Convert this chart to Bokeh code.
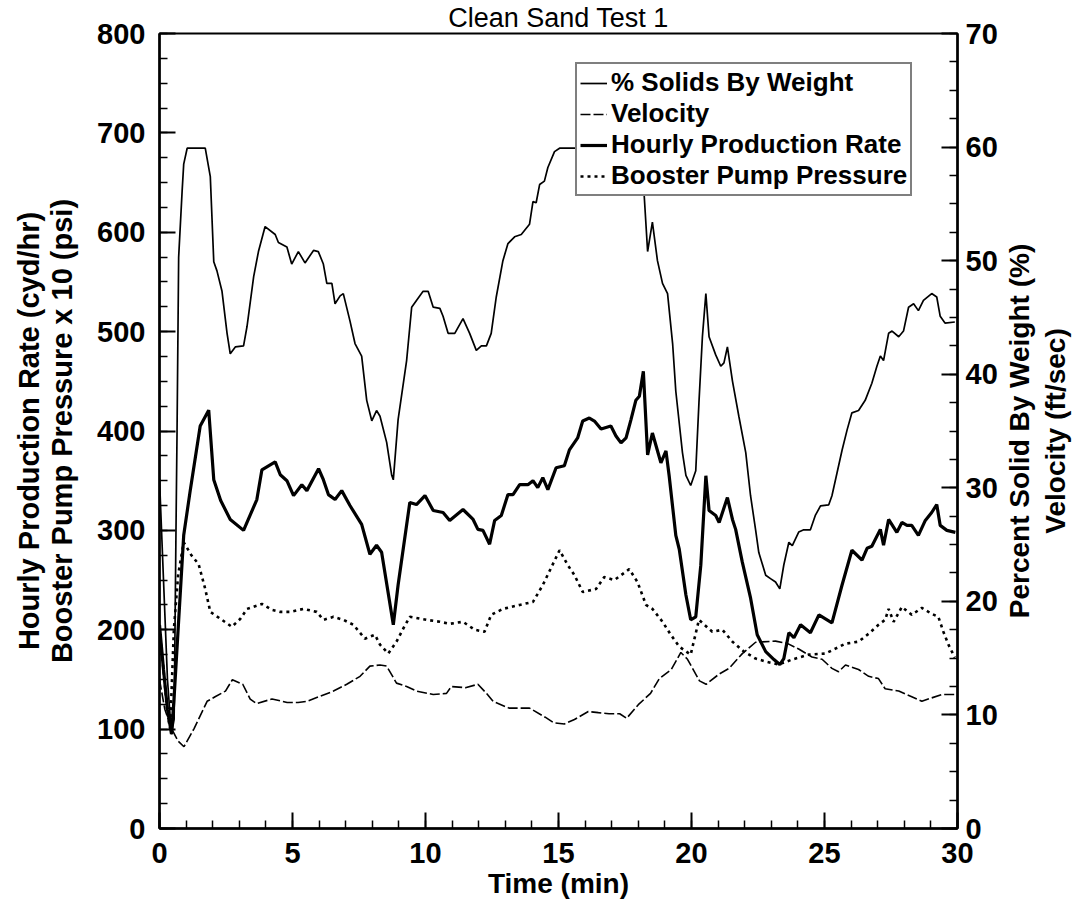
from bokeh.plotting import figure
from bokeh.layouts import row
from bokeh.models import (Range1d, LinearAxis, SingleIntervalTicker, FixedTicker,
                          Legend, LegendItem)
from bokeh.embed import file_html
from bokeh.resources import INLINE

# ---------------- data ----------------
# Hourly Production Rate (cyd/hr) - left axis
t_hourly = [0.0, 0.15, 0.3, 0.45, 0.54, 0.91, 1.16, 1.53, 1.85, 2.04, 2.3, 2.66, 3.16, 3.66, 3.85,
            4.1, 4.35, 4.54, 4.79, 5.04, 5.35, 5.54, 5.98, 6.16, 6.35, 6.6, 6.85, 7.16, 7.6, 7.91,
            8.16, 8.35, 8.79, 8.97, 9.41, 9.66, 9.98, 10.29, 10.66, 10.91, 11.41, 11.79, 11.97,
            12.16, 12.41, 12.6, 12.85, 13.1, 13.29, 13.54, 13.85, 14.04, 14.22, 14.41, 14.6, 14.91,
            15.22, 15.41, 15.72, 15.91, 16.16, 16.35, 16.6, 16.97, 17.16, 17.35, 17.54, 17.72,
            17.91, 18.04, 18.19, 18.35, 18.53, 18.85, 19.04, 19.16, 19.41, 19.54, 19.79, 19.97,
            20.16, 20.35, 20.54, 20.66, 20.91, 21.04, 21.35, 21.54, 21.66, 21.91, 22.22, 22.47,
            22.79, 23.1, 23.32, 23.47, 23.66, 23.85, 24.1, 24.47, 24.79, 25.28, 25.66, 26.03,
            26.41, 26.6, 26.78, 27.1, 27.22, 27.41, 27.72, 27.91, 28.1, 28.28, 28.53, 28.79,
            29.03, 29.22, 29.35, 29.6, 29.92]
hourly_rate = [205, 160, 120, 95, 128, 295, 341, 405, 421, 351, 330, 311, 300, 331, 361,
               365, 369, 356, 350, 335, 346, 340, 362, 351, 336, 331, 340, 325, 306, 276,
               285, 278, 205, 245, 328, 326, 335, 320, 318, 310, 321, 311, 301,
               300, 286, 310, 315, 336, 336, 346, 346, 350, 343, 353, 341, 363,
               365, 381, 393, 410, 413, 410, 402, 405, 395, 388, 393, 411,
               431, 435, 460, 376, 398, 368, 380, 355, 295, 281, 235, 210,
               213, 265, 355, 320, 315, 308, 333, 311, 301, 268, 232, 195,
               178, 170, 165, 171, 197, 192, 205, 197, 215, 207, 245, 280,
               270, 282, 284, 301, 285, 311, 298, 308, 305, 305, 295, 310,
               318, 326, 305, 300, 298]

# Booster Pump Pressure x 10 (psi) - left axis
t_booster = [0.0, 0.15, 0.3, 0.4, 0.54, 0.7, 0.91, 1.2, 1.47, 1.72, 1.91, 2.29, 2.72, 3.04, 3.29,
             3.85, 4.23, 4.54, 4.91, 5.41, 5.91, 6.16, 6.54, 6.91, 7.29, 7.72, 8.1, 8.29, 8.6,
             8.91, 9.16, 9.41, 10.04, 10.54, 10.91, 11.41, 11.85, 12.22, 12.47, 12.91, 13.54,
             14.04, 14.41, 15.04, 15.35, 15.6, 15.91, 16.41, 16.72, 17.1, 17.66, 17.97, 18.29,
             18.53, 18.91, 19.22, 19.54, 19.97, 20.28, 20.78, 21.16, 21.54, 21.97, 22.41, 22.79,
             23.28, 23.78, 24.41, 25.03, 25.41, 25.79, 26.28, 26.66, 27.03, 27.28, 27.41, 27.6,
             27.91, 28.28, 28.66, 29.03, 29.28, 29.47, 29.66, 29.9]
booster_pressure = [200, 160, 115, 100, 200, 255, 288, 275, 266, 241, 218, 211, 203, 211, 221,
                    226, 220, 218, 218, 221, 218, 210, 213, 210, 205, 191, 195, 185, 176,
                    188, 201, 213, 210, 208, 206, 208, 200, 198, 215, 221, 225,
                    228, 245, 280, 265, 255, 238, 241, 253, 250, 261, 248, 225,
                    221, 208, 195, 183, 175, 210, 198, 200, 188, 178, 171, 168,
                    165, 170, 175, 176, 181, 186, 188, 196, 205, 210, 221, 208,
                    223, 215, 222, 216, 213, 198, 185, 172]

# Velocity (ft/sec) - right axis
t_velocity = [0.0, 0.2, 0.45, 0.7, 0.92, 1.3, 1.79, 2.09, 2.48, 2.74, 3.13, 3.41, 3.65, 4.23, 4.8,
              5.21, 5.54, 5.99, 6.54, 7.04, 7.54, 7.91, 8.29, 8.54, 8.91, 9.29, 9.66, 10.29,
              10.79, 10.97, 11.5, 11.97, 12.29, 12.54, 13.14, 13.91, 14.5, 14.83, 15.22, 15.6,
              16.12, 16.5, 16.9, 17.3, 17.56, 18.0, 18.46, 18.79, 19.24, 19.6, 19.85, 20.3,
              20.55, 21.04, 21.41, 21.91, 22.41, 23.16, 23.6, 24.03, 24.53, 24.91, 25.28, 25.53,
              25.79, 26.28, 26.66, 27.03, 27.28, 27.79, 28.28, 28.66, 29.03, 29.41, 30.0]
velocity = [13.1, 10.5, 8.8, 7.7, 7.2, 8.8, 11.2, 11.6, 12.1, 13.1, 12.7, 11.4, 11.0, 11.4, 11.1,
            11.1, 11.2, 11.6, 12.1, 12.7, 13.4, 14.3, 14.4, 14.3, 12.8, 12.5, 12.1, 11.8,
            11.9, 12.5, 12.4, 12.7, 11.9, 11.2, 10.6, 10.6, 9.8, 9.3, 9.2, 9.6,
            10.3, 10.2, 10.1, 10.1, 9.7, 10.9, 11.9, 13.2, 14.0, 15.5, 14.9, 13.0,
            12.7, 13.6, 14.1, 15.4, 16.4, 16.5, 16.3, 15.8, 15.1, 14.9, 14.1, 13.8,
            14.4, 14.0, 13.4, 13.2, 12.3, 12.1, 11.6, 11.2, 11.5, 11.8, 11.8]

# % Solids By Weight - right axis
t_solids = [0.0, 0.15, 0.3, 0.45, 0.55, 0.62, 0.66, 0.72, 0.85, 0.91, 1.04, 1.72, 1.91, 2.04, 2.16,
            2.35, 2.54, 2.66, 2.85, 3.16, 3.29, 3.54, 3.72, 3.97, 4.35, 4.47, 4.79, 4.97, 5.22,
            5.47, 5.79, 5.97, 6.16, 6.29, 6.48, 6.6, 6.79, 6.91, 7.16, 7.35, 7.6, 7.79, 7.98,
            8.16, 8.29, 8.54, 8.73, 8.79, 8.97, 9.29, 9.48, 9.66, 9.91, 10.1, 10.29, 10.54,
            10.66, 10.85, 11.1, 11.41, 11.66, 11.91, 12.1, 12.29, 12.47, 12.66, 12.91, 13.1,
            13.35, 13.6, 13.91, 14.04, 14.16, 14.29, 14.47, 14.6, 14.85, 15.04, 16.5, 17.5,
            18.1, 18.22, 18.35, 18.53, 18.72, 18.91, 19.1, 19.29, 19.41, 19.66, 19.79, 19.97,
            20.16, 20.28, 20.41, 20.54, 20.66, 20.91, 21.1, 21.22, 21.35, 21.54, 21.78, 22.04,
            22.22, 22.41, 22.53, 22.79, 22.97, 23.16, 23.32, 23.47, 23.66, 23.79, 24.03, 24.22,
            24.47, 24.66, 24.85, 25.16, 25.28, 25.47, 25.66, 25.85, 26.03, 26.28, 26.53, 26.78,
            26.97, 27.1, 27.22, 27.41, 27.54, 27.79, 27.97, 28.16, 28.35, 28.53, 28.72, 29.03,
            29.22, 29.35, 29.53, 29.9]
solids = [30.8, 21.9, 13.1, 8.3, 9.6, 26.3, 35.0, 50.3, 56.1, 58.5, 59.9, 59.9, 57.4, 49.9, 49.1,
          47.3, 43.6, 41.8, 42.4, 42.5, 44.2, 48.6, 50.8, 53.0, 52.3, 51.6, 51.2, 49.7, 50.8,
          49.8, 50.9, 50.8, 49.7, 48.0, 48.0, 46.2, 46.9, 47.1, 44.7, 42.7, 41.6, 37.7, 35.9,
          36.8, 36.3, 34.0, 31.1, 30.7, 36.0, 41.2, 45.9, 46.5, 47.3, 47.3, 45.9, 45.8,
          45.1, 43.6, 43.6, 44.9, 43.6, 42.1, 42.5, 42.5, 43.6, 46.8, 50.0, 51.5,
          52.1, 52.3, 53.2, 55.2, 55.1, 56.7, 57.0, 58.2, 59.6, 59.9, 59.9, 59.9,
          59.9, 55.8, 50.8, 53.4, 50.0, 48.0, 47.1, 42.7, 38.5, 33.1, 31.1, 30.2,
          31.5, 37.5, 43.3, 47.1, 43.3, 41.7, 40.7, 41.0, 42.4, 39.4, 36.3, 33.1,
          29.3, 26.3, 24.3, 22.3, 22.0, 21.7, 21.1, 23.2, 25.2, 24.9, 26.1, 26.3,
          26.3, 27.6, 28.4, 28.5, 29.3, 31.3, 33.3, 35.1, 36.6, 36.8, 37.7, 39.2,
          40.7, 41.6, 41.2, 43.6, 43.8, 43.3, 43.8, 45.9, 46.2, 45.6, 46.5, 47.1,
          46.8, 45.1, 44.5, 44.6]

series_names = ["% Solids By Weight", "Velocity", "Hourly Production Rate", "Booster Pump Pressure"]
title_text = "Clean Sand Test 1"
x_title = "Time (min)"
left_titles = ["Hourly Production Rate (cyd/hr)", "Booster Pump Pressure x 10 (psi)"]
right_titles = ["Percent Solid By Weight (%)", "Velocity (ft/sec)"]

# ---------------- main figure ----------------
FONT = "Liberation Sans"
p = figure(width=1000, height=916, output_backend="svg", toolbar_location=None,
           x_range=Range1d(0, 30), y_range=Range1d(0, 800),
           min_border_left=159, min_border_right=41, min_border_top=32, min_border_bottom=88)
p.extra_y_ranges = {"right": Range1d(0, 70)}
p.xgrid.visible = False
p.ygrid.visible = False
p.outline_line_color = "black"
p.outline_line_width = 2
p.outline_line_alpha = 1
p.background_fill_color = "white"
p.border_fill_color = "white"

p.title.text = title_text
p.title.align = "center"
p.title.text_font = FONT
p.title.text_font_style = "normal"
p.title.text_font_size = "27px"
p.title.text_color = "black"
p.title.standoff = 1

right_axis = LinearAxis(y_range_name="right")
p.add_layout(right_axis, "right")

p.xaxis.ticker = SingleIntervalTicker(interval=5, num_minor_ticks=5)
p.yaxis[0].ticker = SingleIntervalTicker(interval=100, num_minor_ticks=4)
right_axis.ticker = SingleIntervalTicker(interval=10, num_minor_ticks=4)

for ax in [p.xaxis[0], p.yaxis[0], right_axis]:
    ax.axis_line_width = 2.5
    ax.axis_line_color = "black"
    ax.major_tick_in = 16
    ax.major_tick_out = 0
    ax.minor_tick_in = 8
    ax.minor_tick_out = 0
    ax.major_tick_line_width = 2
    ax.minor_tick_line_width = 1.5
    ax.major_tick_line_color = "black"
    ax.minor_tick_line_color = "black"
    ax.major_label_text_font = FONT
    ax.major_label_text_font_style = "bold"
    ax.major_label_text_font_size = "29px"
    ax.major_label_text_color = "black"
    ax.axis_label_text_font = FONT
    ax.axis_label_text_font_style = "bold"
    ax.axis_label_text_font_size = "29px"
    ax.axis_label_text_color = "black"
    ax.axis_label_text_line_height = 1.05
p.xaxis[0].axis_label_text_font_size = "28px"
p.xaxis[0].major_label_standoff = 14
p.yaxis[0].major_label_standoff = 14
right_axis.major_label_standoff = 8

p.xaxis[0].axis_label = x_title
p.xaxis[0].axis_label_standoff = 2
p.yaxis[0].axis_label = "\n".join(left_titles)
p.yaxis[0].axis_label_standoff = 16

# ---------------- lines ----------------
r_solids = p.line(t_solids, solids, y_range_name="right", line_color="black", line_width=1.7)
r_vel = p.line(t_velocity, velocity, y_range_name="right", line_color="black", line_width=1.6,
               line_dash="10 3")
r_hourly = p.line(t_hourly, hourly_rate, line_color="black", line_width=3.2)
r_boost = p.line(t_booster, booster_pressure, line_color="black", line_width=2.6, line_dash="3 4")

legend = Legend(items=[LegendItem(label=series_names[0], renderers=[r_solids]),
                       LegendItem(label=series_names[1], renderers=[r_vel]),
                       LegendItem(label=series_names[2], renderers=[r_hourly]),
                       LegendItem(label=series_names[3], renderers=[r_boost])],
                location=(416, 632))
legend.margin = 0
legend.padding = 3
legend.spacing = 0
legend.glyph_width = 27
legend.glyph_height = 24
legend.label_height = 24
legend.label_standoff = 4
legend.label_text_font = FONT
legend.label_text_font_style = "bold"
legend.label_text_font_size = "26px"
legend.label_text_color = "black"
legend.border_line_color = "black"
legend.border_line_width = 2
legend.background_fill_color = "white"
legend.background_fill_alpha = 1
p.add_layout(legend)

# ---------------- side panel carrying the right-hand titles (read bottom-to-top) ----------------
q = figure(width=74, height=916, output_backend="svg", toolbar_location=None,
           x_range=Range1d(0, 1), y_range=Range1d(0, 1),
           min_border_left=64, min_border_right=0, min_border_top=32, min_border_bottom=88)
q.outline_line_color = None
q.xaxis.visible = False
q.xgrid.visible = False
q.ygrid.visible = False
q.background_fill_color = "white"
q.border_fill_color = "white"
qa = q.yaxis[0]
qa.ticker = FixedTicker(ticks=[])
qa.axis_line_color = None
qa.major_tick_line_color = None
qa.minor_tick_line_color = None
qa.major_tick_out = 0
qa.major_tick_in = 0
qa.major_label_standoff = 0
qa.axis_label = "\n".join(right_titles)
qa.axis_label_standoff = 0
qa.axis_label_text_font = FONT
qa.axis_label_text_font_style = "bold"
qa.axis_label_text_font_size = "28px"
qa.axis_label_text_color = "black"
qa.axis_label_text_line_height = 1.15

layout = row(p, q)
open("out.html", "w").write(file_html(layout, INLINE))
